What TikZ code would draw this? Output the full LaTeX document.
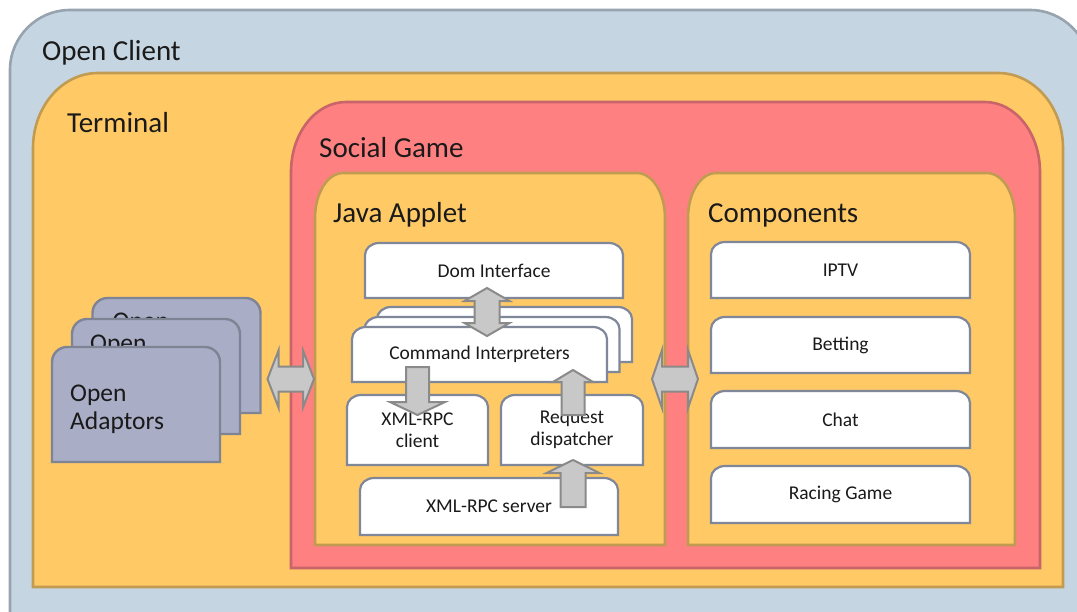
\documentclass[tikz,border=0pt]{standalone}
\usepackage{fontspec}
\setmainfont{Carlito}
\usetikzlibrary{calc}

\definecolor{ocfill}{HTML}{C5D5E1}
\definecolor{ocline}{HTML}{97A3AE}
\definecolor{ambfill}{HTML}{FFC966}
\definecolor{ambline}{HTML}{C29B52}
\definecolor{redfill}{HTML}{FF8080}
\definecolor{redline}{HTML}{C8646A}
\definecolor{adfill}{HTML}{A9ADC6}
\definecolor{adline}{HTML}{7E8494}
\definecolor{cardline}{HTML}{7F8799}
\definecolor{arrfill}{HTML}{C8C8C8}
\definecolor{arrline}{HTML}{8A8A8A}
\definecolor{ink}{HTML}{1A1A1A}

% A rectangle whose two upper corners are rounded and whose lower corners stay square
\makeatletter
\newdimen\tr@xa \newdimen\tr@ya \newdimen\tr@xb \newdimen\tr@yb \newdimen\tr@t
\pgfdeclareshape{top rounded}{%
  \inheritsavedanchors[from=rectangle]
  \inheritanchorborder[from=rectangle]
  \inheritanchor[from=rectangle]{center}
  \inheritanchor[from=rectangle]{mid}
  \inheritanchor[from=rectangle]{base}
  \inheritanchor[from=rectangle]{north}
  \inheritanchor[from=rectangle]{south}
  \inheritanchor[from=rectangle]{east}
  \inheritanchor[from=rectangle]{west}
  \inheritanchor[from=rectangle]{north east}
  \inheritanchor[from=rectangle]{north west}
  \inheritanchor[from=rectangle]{south east}
  \inheritanchor[from=rectangle]{south west}
  \backgroundpath{%
    \southwest \tr@xa=\pgf@x \tr@ya=\pgf@y
    \northeast \tr@xb=\pgf@x \tr@yb=\pgf@y
    \pgfpathmoveto{\pgfqpoint{\tr@xa}{\tr@ya}}%
    \tr@t=\tr@yb \advance\tr@t by -\topry\relax
    \pgfpathlineto{\pgfqpoint{\tr@xa}{\tr@t}}%
    \pgfpatharc{180}{90}{\toprx and \topry}%
    \tr@t=\tr@xb \advance\tr@t by -\toprx\relax
    \pgfpathlineto{\pgfqpoint{\tr@t}{\tr@yb}}%
    \pgfpatharc{90}{0}{\toprx and \topry}%
    \pgfpathlineto{\pgfqpoint{\tr@xb}{\tr@ya}}%
    \pgfpathclose
  }%
}
\makeatother

\tikzset{
  top rx/.store in=\toprx, top ry/.store in=\topry,
  top rx=10pt, top ry=10pt,
  panel/.style={shape=top rounded, draw, line width=2.6pt, outer sep=0pt, inner sep=0pt},
  clientpanel/.style={panel, fill=ocfill, draw=ocline, top rx=60pt, top ry=60pt},
  terminalpanel/.style={panel, fill=ambfill, draw=ambline, top rx=65pt, top ry=75pt},
  gamepanel/.style={panel, fill=redfill, draw=redline, top rx=55pt, top ry=70pt},
  innerpanel/.style={panel, fill=ambfill, draw=ambline, top rx=28pt, top ry=45pt},
  paneltitle/.style={anchor=base west, inner sep=0pt, text=ink, font=\fontsize{29}{34}\selectfont},
  adaptor/.style={panel, fill=adfill, draw=adline, line width=2.4pt, top rx=15pt, top ry=15pt,
    minimum width=168pt, minimum height=115pt},
  adaptortext/.style={anchor=north west, inner sep=0pt, align=left, text=ink,
    font=\fontsize{25.5}{28}\selectfont},
  card/.style={shape=top rounded, draw=cardline, fill=white, line width=2.2pt, outer sep=0pt,
    inner sep=0pt, top rx=14pt, top ry=12pt, align=center, text=ink,
    font=\fontsize{19.5}{21.5}\selectfont},
  blockarrow/.style={draw=arrline, fill=arrfill, line width=2pt, line join=miter},
}

% Block arrows: shaft half width, head half width, head length (in pt)
\newcommand\hdouble[5]{%
  \draw[blockarrow] let \p1=#1, \p2=#2 in
    (\x1,\y1) -- ({\x1+#5pt},{\y1+#4pt}) -- ({\x1+#5pt},{\y1+#3pt})
    -- ({\x2-#5pt},{\y1+#3pt}) -- ({\x2-#5pt},{\y1+#4pt}) -- (\x2,\y1)
    -- ({\x2-#5pt},{\y1-#4pt}) -- ({\x2-#5pt},{\y1-#3pt})
    -- ({\x1+#5pt},{\y1-#3pt}) -- ({\x1+#5pt},{\y1-#4pt}) -- cycle;}
\newcommand\vdouble[5]{%
  \draw[blockarrow] let \p1=#1, \p2=#2 in
    (\x1,\y1) -- ({\x1+#4pt},{\y1-#5pt}) -- ({\x1+#3pt},{\y1-#5pt})
    -- ({\x1+#3pt},{\y2+#5pt}) -- ({\x1+#4pt},{\y2+#5pt}) -- (\x1,\y2)
    -- ({\x1-#4pt},{\y2+#5pt}) -- ({\x1-#3pt},{\y2+#5pt})
    -- ({\x1-#3pt},{\y1-#5pt}) -- ({\x1-#4pt},{\y1-#5pt}) -- cycle;}
\newcommand\arrowup[5]{% tip, tail
  \draw[blockarrow] let \p1=#1, \p2=#2 in
    (\x1,\y1) -- ({\x1+#4pt},{\y1-#5pt}) -- ({\x1+#3pt},{\y1-#5pt})
    -- ({\x1+#3pt},\y2) -- ({\x1-#3pt},\y2) -- ({\x1-#3pt},{\y1-#5pt})
    -- ({\x1-#4pt},{\y1-#5pt}) -- cycle;}
\newcommand\arrowdown[5]{% tail, tip
  \draw[blockarrow] let \p1=#1, \p2=#2 in
    ({\x2-#3pt},\y1) -- ({\x2+#3pt},\y1) -- ({\x2+#3pt},{\y2+#5pt})
    -- ({\x2+#4pt},{\y2+#5pt}) -- (\x2,\y2) -- ({\x2-#4pt},{\y2+#5pt})
    -- ({\x2-#3pt},{\y2+#5pt}) -- cycle;}

\begin{document}
\begin{tikzpicture}[x=1pt,y=-1pt]
\useasboundingbox (0,0) rectangle (1077,611);

% nested containers
\node[clientpanel, minimum width=1080pt, minimum height=620pt] (oc) at (550,320) {};
\node[paneltitle] (octitle) at ($(oc.north west)+(32pt,-50pt)$) {Open Client};

\node[terminalpanel, minimum width=1030pt, minimum height=514pt] (term) at (548,330) {};
\node[paneltitle] (termtitle) at ($(term.north west)+(34pt,-59pt)$) {Terminal};

\node[gamepanel, minimum width=749pt, minimum height=466pt] (game) at (665.5,335) {};
\node[paneltitle] (gametitle) at ($(game.north west)+(28pt,-55pt)$) {Social Game};

\node[innerpanel, minimum width=350pt, minimum height=372pt] (java) at (490,359) {};
\node[paneltitle] (javatitle) at ($(java.north west)+(18pt,-49pt)$) {Java Applet};

\node[innerpanel, minimum width=327pt, minimum height=372pt] (comp) at (851.5,359) {};
\node[paneltitle] (comptitle) at ($(comp.north west)+(20pt,-49pt)$) {Components};

% stack of adaptors, back to front
\node[adaptor] (ad3) at (176.5,355.5) {};
\node[adaptortext] (ad3t) at ($(ad3.north west)+(20pt,-15pt)$) {Open\\Adaptors};
\node[adaptor] (ad2) at (156,376.5) {};
\node[adaptortext] (ad2t) at ($(ad2.north west)+(18pt,-16pt)$) {Open\\Adaptors};
\node[adaptor] (ad1) at (136,404.5) {};
\node[adaptortext] (ad1t) at ($(ad1.north west)+(18pt,-38pt)$) {Open\\Adaptors};

% applet internals
\node[card, minimum width=258pt, minimum height=55pt] (dom) at (494,270.5) {Dom Interface};
\node[card, minimum width=255pt, minimum height=55pt] (cmd3) at (504.5,334.5) {};
\node[card, minimum width=255pt, minimum height=55pt] (cmd2) at (492,344.5) {};
\node[card, minimum width=255pt, minimum height=55pt] (cmd1) at (479.5,354.5) {Command Interpreters};
\node[card, minimum width=141pt, minimum height=70pt] (client) at (417.5,430) {XML-RPC\\client};
\node[card, minimum width=142pt, minimum height=70pt] (disp) at (572,430) {Request\\dispatcher};
\node[card, minimum width=258pt, minimum height=57pt] (server) at (489,506.5) {XML-RPC server};

% components
\node[card, minimum width=259pt, minimum height=56pt] (iptv) at (840.5,270) {IPTV};
\node[card, minimum width=259pt, minimum height=56pt] (betting) at (840.5,345) {Betting};
\node[card, minimum width=259pt, minimum height=57pt] (chat) at (840.5,419.5) {Chat};
\node[card, minimum width=259pt, minimum height=57pt] (racing) at (840.5,494.5) {Racing Game};

% block arrows
\vdouble{($(dom.south)+(-7pt,10pt)$)}{($(cmd1.north)+(7.5pt,-9pt)$)}{12.5}{22.5}{13}
\arrowdown{($(client.north |- cmd1.south)+(0pt,15pt)$)}{($(client.north)+(0pt,-20pt)$)}{11.5}{27.5}{13}
\arrowup{($(disp.north |- cmd1.south)+(1pt,12pt)$)}{($(disp.north)+(1pt,-20pt)$)}{11.5}{20}{12}
\arrowup{($(disp.south)+(1pt,5pt)$)}{($(disp.south |- server.north)+(1pt,-29pt)$)}{12.5}{26.5}{13}
\hdouble{($(ad3.east)+(7pt,-23.5pt)$)}{($(java.west)+(-1pt,-20pt)$)}{12.5}{28.5}{11}
\hdouble{($(java.east)+(-13pt,-20pt)$)}{($(comp.west)+(10pt,-20pt)$)}{12.5}{29}{10}
\end{tikzpicture}
\end{document}
